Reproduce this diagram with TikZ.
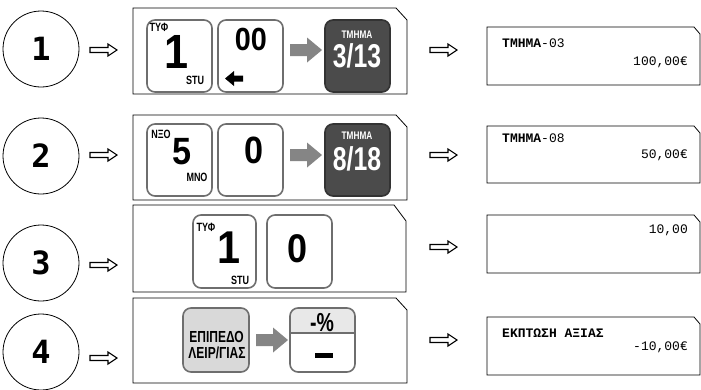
\documentclass[tikz,border=0pt]{standalone}
\usepackage{fontspec}
\setmainfont{Liberation Sans}
\newfontfamily\keyfont{Liberation Sans}[FakeStretch=0.75]
\newfontfamily\digitfont{Liberation Sans}[FakeStretch=0.9]
\newfontfamily\lcdfont{Liberation Mono}
\newfontfamily\numfont{DejaVu Sans Mono}
\definecolor{keyrim}{HTML}{6E6E6E}
\definecolor{darkfill}{HTML}{4B4B4B}
\definecolor{darkrim}{HTML}{333333}
\definecolor{lightfill}{HTML}{D9D9D9}
\definecolor{topfill}{HTML}{E8E8E8}
\definecolor{arrowgray}{HTML}{858585}
\newcommand{\fs}[1]{\fontsize{#1}{#1}\selectfont}

\begin{document}
\begin{tikzpicture}[x=1pt,y=-1pt,
  stepnum/.style={draw,line width=0.8pt,circle,minimum size=76pt,inner sep=0pt,
    font=\numfont\bfseries\fs{32}},
  key/.style={draw=keyrim,line width=1.6pt,rounded corners=8pt,fill=white,
    inner sep=0pt,minimum width=65pt,minimum height=72pt},
  darkkey/.style={key,draw=darkrim,fill=darkfill},
  lightkey/.style={key,fill=lightfill},
  small/.style={inner sep=0pt,font=\keyfont\bfseries\fs{12}},
  big/.style={inner sep=0pt,font=\digitfont\bfseries\fs{#1}},
  cond/.style={inner sep=0pt,font=\keyfont\bfseries\fs{#1}},
  panel/.style={draw,line width=0.8pt,fill=white},
  lcdleft/.style={inner sep=0pt,anchor=west,font=\lcdfont\fs{13}},
  lcdright/.style={inner sep=0pt,anchor=east,font=\lcdfont\fs{13}},
  hollowarrow/.pic={\draw[line width=1.1pt,fill=white]
    (0,-2.5) -- (18,-2.5) -- (18,-6) -- (27,0) -- (18,6) -- (18,2.5) -- (0,2.5) -- cycle;},
  grayarrow/.pic={\fill[arrowgray]
    (0,-6) -- (17,-6) -- (17,-12.5) -- (32,0) -- (17,12.5) -- (17,6) -- (0,6) -- cycle;}
]
\useasboundingbox (0,0) rectangle (701,389);

% step numbers
\node[stepnum] (c1) at (41,49) {1};
\node[stepnum] (c2) at (41,156) {2};
\node[stepnum] (c3) at (41,263) {3};
\node[stepnum] (c4) at (41,352) {4};

% arrows after the step numbers
\pic at (90,50) {hollowarrow};
\pic at (90,155) {hollowarrow};
\pic at (90,265) {hollowarrow};
\pic at (90,358) {hollowarrow};

% key panels
\draw[panel] (133,8) -- (396,8) -- (407,20) -- (407,94) -- (133,94) -- cycle;
\draw[panel] (133,115) -- (396,115) -- (407,127) -- (407,200) -- (133,200) -- cycle;
\draw[panel] (133,205) -- (394,205) -- (406,221) -- (406,292) -- (133,292) -- cycle;
\draw[panel] (133,298) -- (396,298) -- (407,310) -- (407,383) -- (133,383) -- cycle;

% ---- row 1: 1, 00, TMHMA 3/13
\node[key] (k11) at (179.5,56) {};
\node[small] (k11a) at (159,27) {ΤΥΦ};
\node[big=48] (k11b) at (177,52) {1};
\node[small] (k11c) at (195,80) {STU};
\node[key] (k12) at (250.5,56) {};
\node[big=32] (k12a) at (251,39) {00};
\fill (225,78.5) -- (234,71) -- (234,75.5) -- (243,75.5) -- (243,81.5) -- (234,81.5) -- (234,86) -- cycle;
\pic at (290,50) {grayarrow};
\node[darkkey] (k13) at (357.5,56) {};
\node[cond=11,text=white] (k13a) at (357,35) {ΤΜΗΜΑ};
\node[cond=33,text=white] (k13b) at (357,56) {3/13};

% ---- row 2: 5, 0, TMHMA 8/18
\node[key] (k21) at (179.5,160) {};
\node[small] (k21a) at (161,134) {ΝΞΟ};
\node[big=38] (k21b) at (182,152) {5};
\node[small] (k21c) at (197,177) {ΜΝΟ};
\node[key] (k22) at (250.5,160) {};
\node[big=38] (k22a) at (254,150) {0};
\pic at (290,155) {grayarrow};
\node[darkkey] (k23) at (357.5,160) {};
\node[cond=11,text=white] (k23a) at (357,136) {ΤΜΗΜΑ};
\node[cond=33,text=white] (k23b) at (357,159) {8/18};

% ---- row 3: 1, 0
\node[key,minimum width=63pt,minimum height=73pt] (k31) at (224.5,251.5) {};
\node[small] (k31a) at (206,227) {ΤΥΦ};
\node[big=46] (k31b) at (229,248) {1};
\node[small] (k31c) at (240,280) {STU};
\node[key,minimum height=73pt] (k32) at (299.5,251.5) {};
\node[big=40] (k32a) at (298,248.5) {0};

% ---- row 4: level key, -% key
\node[lightkey,minimum width=66pt,minimum height=64pt] (k41) at (216,340) {};
\node[cond=16] (k41a) at (216.5,337) {ΕΠΙΠΕΔΟ};
\node[cond=16] (k41b) at (217,352.5) {ΛΕΙΡ/ΓΙΑΣ};
\pic at (256,340) {grayarrow};
\begin{scope}
  \clip[rounded corners=8pt] (290,308) rectangle (355,372);
  \fill[topfill] (290,308) rectangle (355,333);
\end{scope}
\node[key,fill=none,minimum width=65pt,minimum height=64pt] (k42) at (322.5,340) {};
\draw[keyrim,line width=1.2pt] (k42.west |- 0,333) -- (k42.east |- 0,333);
\node[cond=26] (k42a) at (322,323) {-\%};
\fill (315,352.5) rectangle (333,357.5);

% arrows to the displays
\pic at (430,50) {hollowarrow};
\pic at (430,155) {hollowarrow};
\pic at (430,247) {hollowarrow};
\pic at (430,340) {hollowarrow};

% displays
\draw[panel] (487,27) -- (694,27) -- (700,34) -- (700,85) -- (487,85) -- cycle;
\node[lcdleft] (d1a) at (502,43) {\textbf{ΤΜΗΜΑ}-03};
\node[lcdright] (d1b) at (688,62) {100,00€};

\draw[panel] (487,126) -- (694,126) -- (700,133) -- (700,183) -- (487,183) -- cycle;
\node[lcdleft] (d2a) at (502,138) {\textbf{ΤΜΗΜΑ}-08};
\node[lcdright] (d2b) at (688,155) {50,00€};

\draw[panel] (487,215) -- (694,215) -- (700,222) -- (700,273) -- (487,273) -- cycle;
\node[lcdright] (d3b) at (688,230) {10,00};

\draw[panel] (487,317) -- (694,317) -- (700,324) -- (700,375) -- (487,375) -- cycle;
\node[lcdleft] (d4a) at (502,333) {\textbf{ΕΚΠΤΩΣΗ ΑΞΙΑΣ}};
\node[lcdright] (d4b) at (688,347) {-10,00€};
\end{tikzpicture}
\end{document}
